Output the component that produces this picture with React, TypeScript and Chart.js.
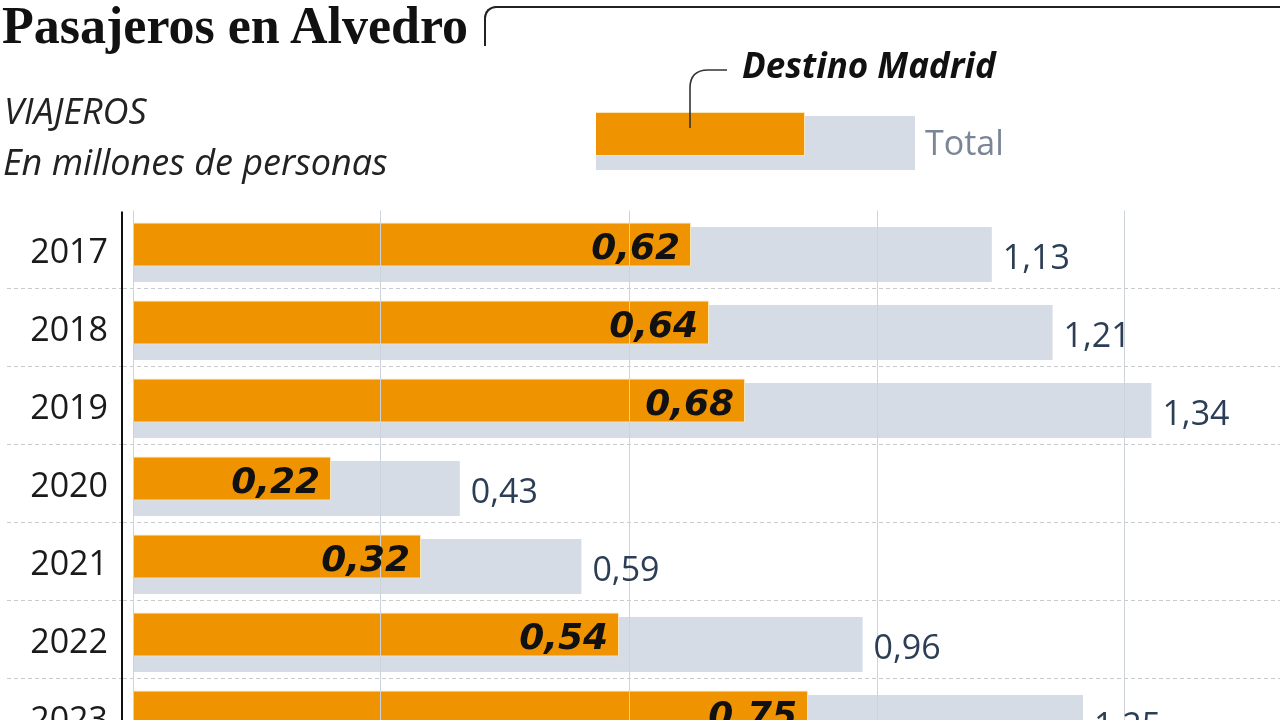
import React, { useEffect, useRef } from 'react';
import { Chart, registerables } from 'chart.js';

Chart.register(...registerables);

// ---- data ----
const YEARS = ['2017', '2018', '2019', '2020', '2021', '2022', '2023'];
const MADRID = [0.62, 0.64, 0.68, 0.22, 0.32, 0.54, 0.75];
const TOTAL = [1.13, 1.21, 1.34, 0.43, 0.59, 0.96, 1.25];
const GRID_VALUES = [0, 0.326, 0.653, 0.979, 1.305];

const TITLE = 'Pasajeros en Alvedro';
const SUB1 = 'VIAJEROS';
const SUB2 = 'En millones de personas';
const LEG_MADRID = 'Destino Madrid';
const LEG_TOTAL = 'Total';

// ---- styles ----
const ORANGE = '#F09300';
const GRAY = '#D5DCE6';
const SANS = '"Open Sans", Lato, sans-serif';

const fmt = (v: number) => v.toFixed(2).replace('.', ',');

const valueLabels = {
  id: 'valueLabels',
  afterDraw(chart: any) {
    const ctx = chart.ctx;
    ctx.save();
    const mMeta = chart.getDatasetMeta(0);
    const tMeta = chart.getDatasetMeta(1);
    ctx.textBaseline = 'alphabetic';
    ctx.font = 'italic bold 36px "DejaVu Sans"';
    ctx.fillStyle = '#111111';
    ctx.textAlign = 'right';
    mMeta.data.forEach((bar: any, i: number) => {
      ctx.fillText(fmt(MADRID[i]), bar.x - 11, bar.y + 14);
    });
    ctx.font = `34px ${SANS}`;
    ctx.fillStyle = '#2C3E55';
    ctx.textAlign = 'left';
    tMeta.data.forEach((bar: any, i: number) => {
      ctx.fillText(fmt(TOTAL[i]), bar.x + 11, bar.y + 14);
    });
    ctx.restore();
  },
};

const axisLine = {
  id: 'axisLine',
  afterDraw(chart: any) {
    const { ctx, chartArea } = chart;
    ctx.save();
    ctx.strokeStyle = '#111111';
    ctx.lineWidth = 2;
    ctx.setLineDash([]);
    ctx.beginPath();
    ctx.moveTo(chartArea.left - 1, chartArea.top + 1);
    ctx.lineTo(chartArea.left - 1, chartArea.bottom);
    ctx.stroke();
    ctx.restore();
  },
};

function BarChart() {
  const ref = useRef<HTMLCanvasElement>(null);
  useEffect(() => {
    if (!ref.current) return;
    const gridColor = (c: any) => (c.index === 0 ? 'rgba(0,0,0,0)' : '#C8CBD0');
    const chart = new Chart(ref.current, {
      type: 'bar',
      data: {
        labels: YEARS,
        datasets: [
          {
            label: LEG_MADRID,
            data: MADRID,
            xAxisID: 'x2',
            backgroundColor: ORANGE,
            borderColor: '#FCE6B6',
            borderWidth: 1,
            categoryPercentage: 20 / 78,
            barPercentage: 4.4,
            grouped: true,
          } as any,
          {
            label: LEG_TOTAL,
            data: TOTAL,
            xAxisID: 'x',
            backgroundColor: GRAY,
            borderWidth: 0,
            categoryPercentage: 20 / 78,
            barPercentage: 5.5,
            grouped: true,
          } as any,
        ],
      },
      options: {
        indexAxis: 'y',
        responsive: false,
        animation: false,
        layout: { padding: { top: 210.5, bottom: 3.5, left: 0, right: 0 } },
        plugins: { legend: { display: false }, tooltip: { enabled: false } },
        scales: {
          y: {
            type: 'category',
            offset: true,
            grid: {
              offset: true,
              color: gridColor,
              tickColor: gridColor,
              tickBorderDash: [4, 3],
              lineWidth: 1,
              drawTicks: true,
              tickLength: 116,
            } as any,
            border: { display: false, dash: [4, 3] } as any,
            ticks: {
              font: { family: SANS, size: 34 },
              color: '#1A1A1A',
              padding: -101,
              labelOffset: 4,
            },
            afterFit: (s: any) => {
              s.width = 123;
            },
          },
          x: {
            type: 'linear',
            position: 'bottom',
            min: -10 / 760,
            max: 1147 / 760,
            grid: { color: '#CDD3DC', lineWidth: 1, drawTicks: false, z: 1 } as any,
            border: { display: false },
            ticks: { display: false },
            afterBuildTicks: (s: any) => {
              s.ticks = GRID_VALUES.map((v) => ({ value: v }));
            },
            afterFit: (s: any) => {
              s.height = 0;
            },
          },
          x2: {
            type: 'linear',
            display: false,
            min: -10 / 900,
            max: 1147 / 900,
          },
        },
      },
      plugins: [valueLabels, axisLine],
    });
    return () => chart.destroy();
  }, []);
  return (
    <canvas
      ref={ref}
      width={1280}
      height={760}
      style={{ position: 'absolute', left: 0, top: 0, width: 1280, height: 760 }}
    />
  );
}

export default function App() {
  return (
    <div
      style={{
        position: 'fixed',
        left: 0,
        top: 0,
        width: 1280,
        height: 720,
        overflow: 'hidden',
        background: '#ffffff',
      }}
    >
      <BarChart />
      <div
        style={{
          position: 'absolute',
          left: 2,
          top: 0,
          font: 'bold 52px "Liberation Serif", serif',
          lineHeight: '52px',
          color: '#111',
          whiteSpace: 'nowrap',
        }}
      >
        {TITLE}
      </div>
      <div
        style={{
          position: 'absolute',
          left: 484,
          top: 6,
          width: 820,
          height: 38,
          borderTop: '2px solid #222',
          borderLeft: '2px solid #222',
          borderTopLeftRadius: 12,
        }}
      />
      <div
        style={{
          position: 'absolute',
          left: 4,
          top: 93,
          font: `italic 36px ${SANS}`,
          lineHeight: '36px',
          color: '#222',
          whiteSpace: 'nowrap',
        }}
      >
        {SUB1}
      </div>
      <div
        style={{
          position: 'absolute',
          left: 3,
          top: 144,
          font: `italic 36px ${SANS}`,
          lineHeight: '36px',
          color: '#222',
          whiteSpace: 'nowrap',
        }}
      >
        {SUB2}
      </div>
      {/* legend */}
      <div
        style={{
          position: 'absolute',
          left: 596,
          top: 116,
          width: 319,
          height: 54,
          background: GRAY,
        }}
      />
      <div
        style={{
          position: 'absolute',
          left: 596,
          top: 112,
          width: 208,
          height: 42,
          background: ORANGE,
          border: '1px solid #FCE6B6',
          borderLeft: 'none',
        }}
      />
      <svg
        width={1280}
        height={200}
        style={{ position: 'absolute', left: 0, top: 0 }}
      >
        <path
          d="M 690 128 L 690 88 Q 690 70 708 70 L 727 70"
          fill="none"
          stroke="#333"
          strokeWidth={1.6}
        />
      </svg>
      <div
        style={{
          position: 'absolute',
          left: 742,
          top: 47,
          font: 'italic bold 35px "Noto Sans", sans-serif',
          lineHeight: '35px',
          color: '#111',
          whiteSpace: 'nowrap',
        }}
      >
        {LEG_MADRID}
      </div>
      <div
        style={{
          position: 'absolute',
          left: 925,
          top: 125,
          font: `34px ${SANS}`,
          lineHeight: '34px',
          color: '#7A8698',
          whiteSpace: 'nowrap',
        }}
      >
        {LEG_TOTAL}
      </div>
    </div>
  );
}
